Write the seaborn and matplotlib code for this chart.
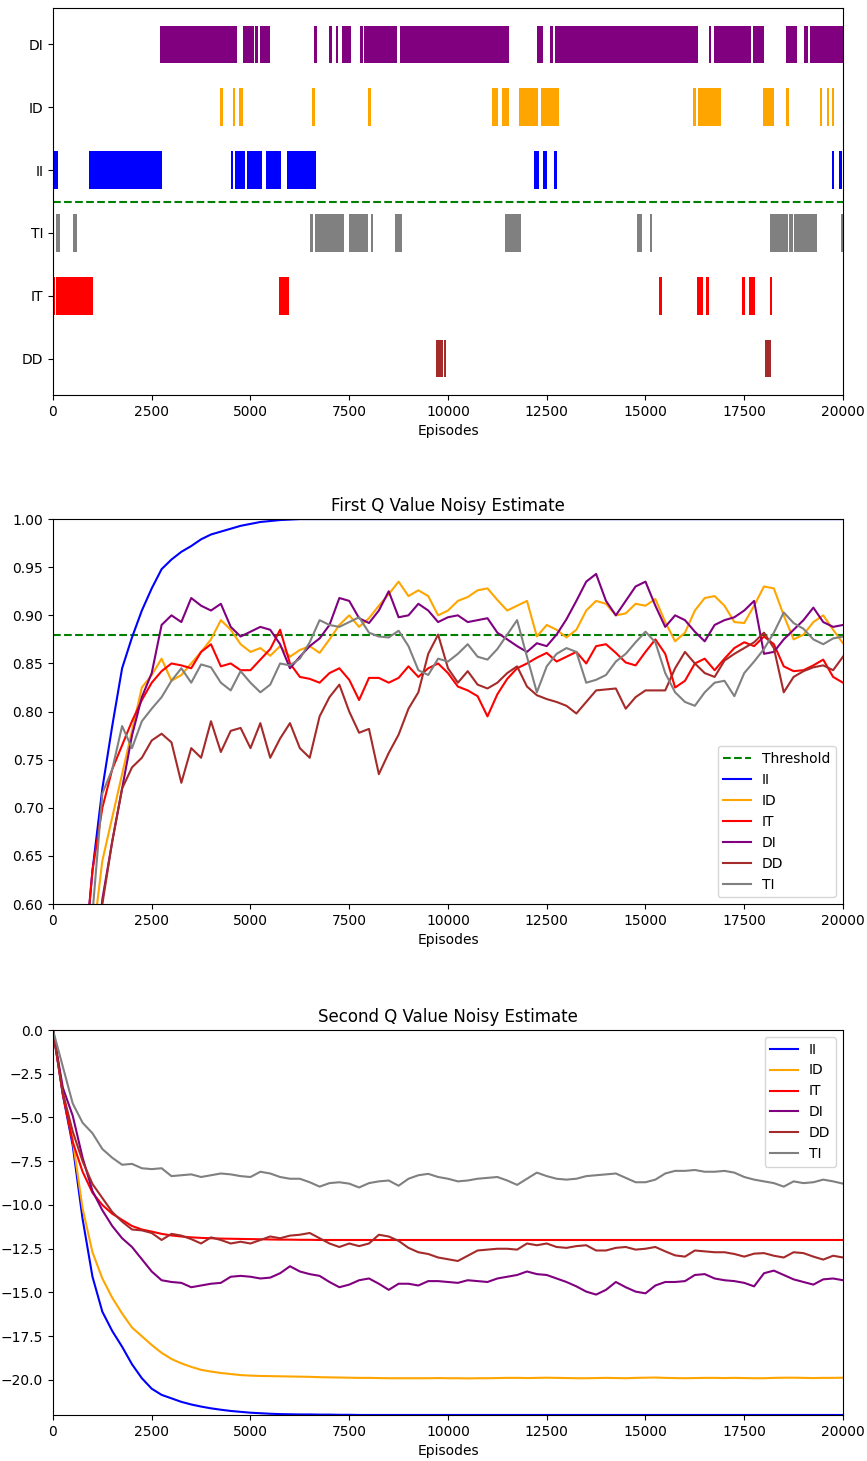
import matplotlib
matplotlib.use("Agg")
import matplotlib.pyplot as plt
import seaborn as sns
import pandas as pd

# ---------- DATA ----------
STRATEGIES = ["II", "ID", "IT", "DI", "DD", "TI"]
COLORS = {"II": "blue", "ID": "orange", "IT": "red", "DI": "purple", "DD": "brown", "TI": "gray"}
THRESHOLD = 0.88

# strategy order on the selection chart (top to bottom)
ROW_LABELS = ["DI", "ID", "II", "TI", "IT", "DD"]
ROW_OFFSETS = [5, 4, 3, 2, 1, 0]

# episode ranges where each strategy was selected (start, end)
DI_runs = [(2709, 4650), (4803, 5089), (5115, 5182), (5233, 5486), (6617, 6676),
           (6988, 7073), (7166, 7225), (7326, 7546), (7782, 7842), (7883, 8718),
           (8786, 11546), (12263, 12398), (12593, 12669), (12711, 16341), (16603, 16654),
           (16729, 17673), (17732, 18010), (18560, 18830), (19023, 19124), (19167, 20000)]
ID_runs = [(4228, 4296), (4565, 4616), (4700, 4803), (6558, 6642), (7976, 8044),
           (11106, 11258), (11368, 11537), (11799, 12272), (12356, 12820), (16213, 16281),
           (16331, 16905), (17985, 18256), (18560, 18636), (19420, 19479), (19605, 19656),
           (19724, 19775)]
II_runs = [(0, 118), (919, 2760), (4507, 4549), (4608, 4861), (4912, 5283), (5393, 5773),
           (5925, 6650), (12187, 12305), (12398, 12500), (12693, 12753), (19724, 19775),
           (19902, 19970)]
TI_runs = [(76, 177), (498, 608), (6507, 6592), (6625, 7368), (7495, 7976), (8052, 8094),
           (8667, 8828), (11445, 11841), (14787, 14906), (15116, 15158), (18154, 18618),
           (18643, 18728), (18762, 19336), (19960, 20000)]
IT_runs = [(0, 30), (76, 1005), (5722, 5967), (15344, 15411), (16314, 16450), (16526, 16602),
           (17445, 17521), (17614, 17783), (18154, 18213)]
DD_runs = [(9698, 9882), (9900, 9951), (18028, 18180)]

# sampled every 250 episodes
episodes = list(range(0, 20001, 250))

q1_II = [0.0, 0.12, 0.3, 0.52, 0.635, 0.72, 0.785, 0.845, 0.877, 0.905, 0.928, 0.948, 0.958,
         0.966, 0.972, 0.979, 0.984, 0.987, 0.99, 0.993, 0.995, 0.997, 0.998, 0.999, 0.9995,
         1.0, 1.0, 1.0, 1.0, 1.0, 1.0, 1.0, 1.0, 1.0, 1.0, 1.0, 1.0, 1.0, 1.0, 1.0, 1.0,
         1.0, 1.0, 1.0, 1.0, 1.0, 1.0, 1.0, 1.0, 1.0, 1.0, 1.0, 1.0, 1.0, 1.0, 1.0, 1.0,
         1.0, 1.0, 1.0, 1.0, 1.0, 1.0, 1.0, 1.0, 1.0, 1.0, 1.0, 1.0, 1.0, 1.0, 1.0, 1.0,
         1.0, 1.0, 1.0, 1.0, 1.0, 1.0, 1.0, 1.0]
q1_ID = [0.0, 0.1, 0.22, 0.38, 0.56, 0.645, 0.69, 0.735, 0.78, 0.825, 0.838, 0.855, 0.832,
         0.838, 0.85, 0.862, 0.875, 0.895, 0.885, 0.87, 0.862, 0.866, 0.858, 0.868, 0.857,
         0.864, 0.868, 0.861, 0.875, 0.89, 0.9, 0.888, 0.897, 0.91, 0.922, 0.935, 0.92,
         0.926, 0.92, 0.9, 0.905, 0.915, 0.919, 0.926, 0.928, 0.916, 0.905, 0.91, 0.915,
         0.878, 0.89, 0.885, 0.877, 0.885, 0.905, 0.915, 0.912, 0.9, 0.902, 0.912, 0.91,
         0.917, 0.893, 0.873, 0.882, 0.905, 0.918, 0.92, 0.91, 0.893, 0.892, 0.91, 0.93,
         0.928, 0.9, 0.875, 0.88, 0.893, 0.9, 0.885, 0.871]
q1_IT = [0.0, 0.15, 0.33, 0.52, 0.635, 0.7, 0.74, 0.765, 0.79, 0.812, 0.83, 0.842, 0.85,
         0.848, 0.845, 0.862, 0.87, 0.847, 0.85, 0.843, 0.843, 0.854, 0.865, 0.885, 0.85,
         0.836, 0.834, 0.83, 0.84, 0.845, 0.833, 0.812, 0.835, 0.835, 0.83, 0.835, 0.847,
         0.836, 0.845, 0.85, 0.84, 0.826, 0.822, 0.816, 0.795, 0.818, 0.834, 0.845, 0.85,
         0.856, 0.861, 0.852, 0.857, 0.862, 0.85, 0.868, 0.87, 0.861, 0.851, 0.848, 0.862,
         0.875, 0.86, 0.825, 0.832, 0.85, 0.855, 0.843, 0.855, 0.866, 0.872, 0.868, 0.878,
         0.87, 0.847, 0.842, 0.843, 0.848, 0.854, 0.836, 0.83]
q1_DI = [0.0, 0.1, 0.25, 0.4, 0.5, 0.605, 0.665, 0.72, 0.775, 0.815, 0.84, 0.89, 0.9, 0.893,
         0.918, 0.91, 0.905, 0.912, 0.888, 0.878, 0.883, 0.888, 0.885, 0.87, 0.845, 0.857,
         0.868, 0.876, 0.89, 0.918, 0.915, 0.897, 0.892, 0.905, 0.925, 0.898, 0.9, 0.912,
         0.905, 0.893, 0.898, 0.9, 0.893, 0.895, 0.897, 0.882, 0.875, 0.868, 0.862, 0.871,
         0.868, 0.88, 0.896, 0.915, 0.935, 0.943, 0.915, 0.9, 0.915, 0.93, 0.935, 0.91,
         0.888, 0.9, 0.895, 0.883, 0.873, 0.89, 0.895, 0.898, 0.905, 0.915, 0.86, 0.862,
         0.875, 0.885, 0.895, 0.908, 0.893, 0.888, 0.89]
q1_DD = [0.0, 0.1, 0.24, 0.4, 0.5, 0.6, 0.665, 0.72, 0.742, 0.752, 0.77, 0.777, 0.768,
         0.726, 0.762, 0.752, 0.79, 0.758, 0.78, 0.783, 0.762, 0.788, 0.752, 0.772, 0.788,
         0.762, 0.752, 0.795, 0.815, 0.828, 0.8, 0.778, 0.782, 0.735, 0.757, 0.776, 0.803,
         0.82, 0.86, 0.88, 0.845, 0.83, 0.842, 0.828, 0.824, 0.83, 0.84, 0.847, 0.826,
         0.817, 0.813, 0.81, 0.806, 0.798, 0.81, 0.822, 0.823, 0.824, 0.803, 0.815, 0.822,
         0.822, 0.822, 0.845, 0.862, 0.85, 0.84, 0.836, 0.853, 0.86, 0.866, 0.872, 0.882,
         0.866, 0.82, 0.836, 0.842, 0.846, 0.848, 0.843, 0.857]
q1_TI = [0.0, 0.12, 0.3, 0.48, 0.59, 0.715, 0.74, 0.785, 0.762, 0.79, 0.803, 0.815, 0.832,
         0.845, 0.83, 0.849, 0.846, 0.83, 0.822, 0.842, 0.83, 0.82, 0.828, 0.85, 0.848,
         0.855, 0.872, 0.895, 0.89, 0.888, 0.893, 0.898, 0.882, 0.878, 0.877, 0.884, 0.868,
         0.843, 0.838, 0.855, 0.852, 0.86, 0.87, 0.857, 0.854, 0.865, 0.88, 0.895, 0.857,
         0.82, 0.847, 0.86, 0.866, 0.862, 0.83, 0.833, 0.838, 0.852, 0.86, 0.872, 0.883,
         0.872, 0.84, 0.82, 0.81, 0.806, 0.82, 0.83, 0.832, 0.816, 0.84, 0.852, 0.865,
         0.882, 0.903, 0.892, 0.886, 0.875, 0.87, 0.876, 0.878]

q2_II = [0.0, -3.7, -6.6, -10.8, -14.1, -16.1, -17.2, -18.1, -19.1, -19.9, -20.5, -20.85,
         -21.05, -21.25, -21.4, -21.52, -21.62, -21.7, -21.77, -21.82, -21.87, -21.9,
         -21.93, -21.95, -21.96, -21.97, -21.97, -21.98, -21.98, -21.99, -21.99, -22.0,
         -22.0, -22.0, -22.0, -22.0, -22.0, -22.0, -22.0, -22.0, -22.0, -22.0, -22.0,
         -22.0, -22.0, -22.0, -22.0, -22.0, -22.0, -22.0, -22.0, -22.0, -22.0, -22.0,
         -22.0, -22.0, -22.0, -22.0, -22.0, -22.0, -22.0, -22.0, -22.0, -22.0, -22.0,
         -22.0, -22.0, -22.0, -22.0, -22.0, -22.0, -22.0, -22.0, -22.0, -22.0, -22.0,
         -22.0, -22.0, -22.0, -22.0, -22.0]
q2_ID = [0.0, -3.5, -6.3, -10.2, -12.7, -14.2, -15.3, -16.2, -17.0, -17.5, -18.0, -18.45,
         -18.8, -19.05, -19.25, -19.42, -19.52, -19.6, -19.66, -19.72, -19.75, -19.77,
         -19.78, -19.79, -19.8, -19.81, -19.82, -19.84, -19.85, -19.86, -19.87, -19.88,
         -19.88, -19.89, -19.9, -19.9, -19.9, -19.9, -19.9, -19.89, -19.9, -19.9, -19.91,
         -19.9, -19.9, -19.89, -19.88, -19.88, -19.89, -19.88, -19.87, -19.88, -19.89,
         -19.9, -19.9, -19.89, -19.88, -19.89, -19.9, -19.88, -19.87, -19.86, -19.88,
         -19.89, -19.9, -19.89, -19.88, -19.88, -19.89, -19.88, -19.89, -19.9, -19.9,
         -19.88, -19.87, -19.87, -19.88, -19.89, -19.88, -19.88, -19.87]
q2_IT = [0.0, -3.7, -6.4, -8.1, -9.3, -10.0, -10.5, -10.85, -11.2, -11.4, -11.52, -11.65,
         -11.74, -11.8, -11.85, -11.88, -11.9, -11.92, -11.93, -11.94, -11.95, -11.96,
         -11.97, -11.98, -11.98, -11.99, -11.99, -12.0, -12.0, -12.0, -12.0, -12.0, -12.0,
         -12.0, -12.0, -12.0, -12.0, -12.0, -12.0, -12.0, -12.0, -12.0, -12.0, -12.0,
         -12.0, -12.0, -12.0, -12.0, -12.0, -12.0, -12.0, -12.0, -12.0, -12.0, -12.0,
         -12.0, -12.0, -12.0, -12.0, -12.0, -12.0, -12.0, -12.0, -12.0, -12.0, -12.0,
         -12.0, -12.0, -12.0, -12.0, -12.0, -12.0, -12.0, -12.0, -12.0, -12.0, -12.0,
         -12.0, -12.0, -12.0, -12.0]
q2_DI = [0.0, -3.3, -4.9, -7.3, -9.2, -10.3, -11.2, -11.9, -12.4, -13.1, -13.8, -14.3,
         -14.4, -14.45, -14.7, -14.6, -14.5, -14.45, -14.1, -14.05, -14.1, -14.2, -14.15,
         -13.9, -13.5, -13.8, -13.95, -14.05, -14.4, -14.7, -14.55, -14.3, -14.2, -14.5,
         -14.85, -14.5, -14.5, -14.6, -14.35, -14.35, -14.4, -14.45, -14.3, -14.35, -14.4,
         -14.2, -14.1, -14.0, -13.8, -13.95, -14.0, -14.2, -14.4, -14.65, -14.95, -15.12,
         -14.85, -14.4, -14.7, -14.95, -15.05, -14.6, -14.4, -14.4, -14.35, -14.0, -13.95,
         -14.2, -14.3, -14.35, -14.45, -14.65, -13.9, -13.75, -14.0, -14.25, -14.4, -14.55,
         -14.25, -14.2, -14.3]
q2_DD = [0.0, -3.6, -5.8, -7.5, -8.8, -9.6, -10.4, -10.95, -11.4, -11.45, -11.6, -12.0,
         -11.65, -11.75, -11.95, -12.2, -11.85, -12.0, -12.2, -12.1, -12.2, -12.0, -11.8,
         -11.9, -11.75, -11.7, -11.6, -11.9, -12.2, -12.4, -12.2, -12.35, -12.2, -11.7,
         -11.8, -12.05, -12.45, -12.7, -12.8, -13.0, -13.1, -13.2, -12.9, -12.6, -12.55,
         -12.5, -12.5, -12.55, -12.2, -12.3, -12.2, -12.4, -12.45, -12.35, -12.3, -12.6,
         -12.6, -12.45, -12.4, -12.55, -12.5, -12.4, -12.65, -12.88, -12.95, -12.6, -12.65,
         -12.7, -12.7, -12.8, -12.95, -12.78, -12.75, -12.9, -13.0, -12.7, -12.75, -12.95,
         -13.12, -12.9, -13.0]
q2_TI = [0.0, -2.1, -4.2, -5.3, -5.9, -6.8, -7.3, -7.7, -7.65, -7.9, -7.95, -7.9, -8.35,
         -8.3, -8.25, -8.4, -8.3, -8.2, -8.25, -8.35, -8.4, -8.1, -8.2, -8.4, -8.5, -8.5,
         -8.7, -8.95, -8.75, -8.7, -8.78, -9.0, -8.75, -8.65, -8.6, -8.9, -8.5, -8.3, -8.22,
         -8.4, -8.5, -8.65, -8.6, -8.5, -8.45, -8.4, -8.6, -8.85, -8.5, -8.15, -8.35, -8.5,
         -8.55, -8.5, -8.35, -8.3, -8.25, -8.2, -8.45, -8.7, -8.7, -8.55, -8.2, -8.05,
         -8.05, -8.0, -8.1, -8.1, -8.05, -8.15, -8.4, -8.55, -8.65, -8.75, -8.95, -8.65,
         -8.75, -8.7, -8.55, -8.65, -8.78]

runs = {"DI": DI_runs, "ID": ID_runs, "II": II_runs, "TI": TI_runs, "IT": IT_runs, "DD": DD_runs}
q1 = {"II": q1_II, "ID": q1_ID, "IT": q1_IT, "DI": q1_DI, "DD": q1_DD, "TI": q1_TI}
q2 = {"II": q2_II, "ID": q2_ID, "IT": q2_IT, "DI": q2_DI, "DD": q2_DD, "TI": q2_TI}

# ---------- FIGURE ----------
fig = plt.figure(figsize=(8.67, 14.61), dpi=100)
ax_sel = fig.add_axes([0.0611, 0.7296, 0.9112, 0.2649])
ax_q1 = fig.add_axes([0.0611, 0.3812, 0.9112, 0.2635])
ax_q2 = fig.add_axes([0.0611, 0.0315, 0.9112, 0.2635])

# ---------- STRATEGY SELECTION ----------
for name, offset in zip(ROW_LABELS, ROW_OFFSETS):
    bars = [(s, max(e - s, 40)) for s, e in runs[name]]
    ax_sel.broken_barh(bars, (offset - 0.3, 0.6), facecolors=COLORS[name], linewidth=0)
ax_sel.axhline(2.5, color="green", linestyle="--", linewidth=1.5)
ax_sel.set_yticks(ROW_OFFSETS)
ax_sel.set_yticklabels(ROW_LABELS)
ax_sel.set_xlim(0, 20000)
ax_sel.set_ylim(-0.58, 5.58)
ax_sel.set_xlabel("Episodes")

# ---------- FIRST Q VALUE ----------
ax_q1.axhline(THRESHOLD, color="green", linestyle="--", linewidth=1.5, label="Threshold")
for name in STRATEGIES:
    sns.lineplot(x=episodes, y=q1[name], color=COLORS[name], label=name, linewidth=1.5, ax=ax_q1)
ax_q1.set_xlim(0, 20000)
ax_q1.set_ylim(0.6, 1.0)
ax_q1.set_title("First Q Value Noisy Estimate")
ax_q1.set_xlabel("Episodes")
ax_q1.legend(loc="lower right")

# ---------- SECOND Q VALUE ----------
for name in STRATEGIES:
    sns.lineplot(x=episodes, y=q2[name], color=COLORS[name], label=name, linewidth=1.5, ax=ax_q2)
ax_q2.set_xlim(0, 20000)
ax_q2.set_ylim(-22, 0)
ax_q2.set_title("Second Q Value Noisy Estimate")
ax_q2.set_xlabel("Episodes")
ax_q2.legend(loc="upper right")

fig.savefig("out.png", dpi=100)
